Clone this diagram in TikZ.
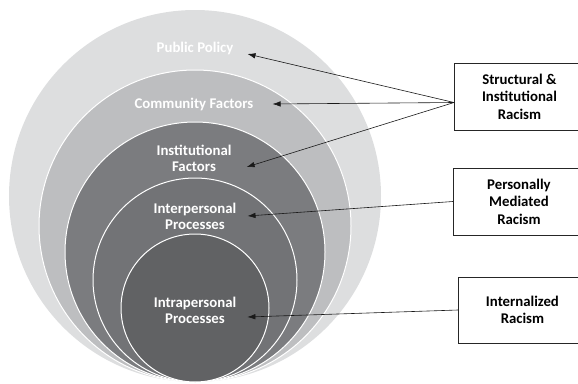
\documentclass[tikz,border=0pt]{standalone}
\usepackage{fontspec}
\setmainfont{Carlito}
\usetikzlibrary{arrows.meta,positioning}

\definecolor{ringA}{HTML}{DDDEDF}
\definecolor{ringB}{HTML}{BDBEC0}
\definecolor{ringC}{HTML}{7B7C7F}
\definecolor{ringD}{HTML}{727376}
\definecolor{ringE}{HTML}{616264}

\begin{document}
\begin{tikzpicture}[x=1pt,y=-1pt,
	lvl/.style={text=white,font=\bfseries\fontsize{14.8}{16}\selectfont,align=center,inner sep=0pt},
	racism/.style={draw=black!85,line width=0.9pt,font=\bfseries\fontsize{14.8}{17.5}\selectfont,
		align=center,anchor=west,minimum height=67pt,inner sep=0pt},
	arr/.style={-{Latex[length=8pt,width=5.5pt]},line width=0.6pt,black!90}]
	\useasboundingbox (0,0) rectangle (578,383);
	% nested circles, all touching at the bottom
	\fill[ringA] (195,196) circle (186);
	\foreach \r/\c in {156/ringB,130/ringC,102/ringD,74/ringE}
		\filldraw[fill=\c,draw=white,line width=1pt] (195,382-\r) circle (\r);

	\node[lvl] (pp)  at (195,48)  {Public Policy};
	\node[lvl] (cf)  at (194,104) {Community Factors};
	\node[lvl] (inf) at (194,158) {Institutional\\Factors};
	\node[lvl] (ipp) at (195,216) {Interpersonal\\Processes};
	\node[lvl] (irp) at (195,310) {Intrapersonal\\Processes};

	% boxes run past the right edge, so their right side is cut off
	\node[racism,minimum width=130pt] (sir) at (454,96.5) {Structural \&\\Institutional\\Racism};
	\node[racism,minimum width=131pt] (pmr) at (453,201.5) {Personally\\Mediated\\Racism};
	\node[racism,minimum width=128pt,minimum height=66pt] (ir) at (458,310) {Internalized\\Racism};

	\coordinate (sirIn) at ([yshift=-6pt]sir.west);
	\draw[arr] (sirIn) -- ([xshift=14pt,yshift=-6pt]pp.east);
	\draw[arr] (sirIn) -- ([xshift=19pt]cf.east);
	\draw[arr] (sirIn) -- ([xshift=15pt,yshift=-9pt]inf.east);
	\draw[arr] (pmr.west) -- ([xshift=11pt]ipp.east);
	\draw[arr] (ir.west) -- ([xshift=11pt,yshift=-7pt]irp.east);
\end{tikzpicture}
\end{document}
